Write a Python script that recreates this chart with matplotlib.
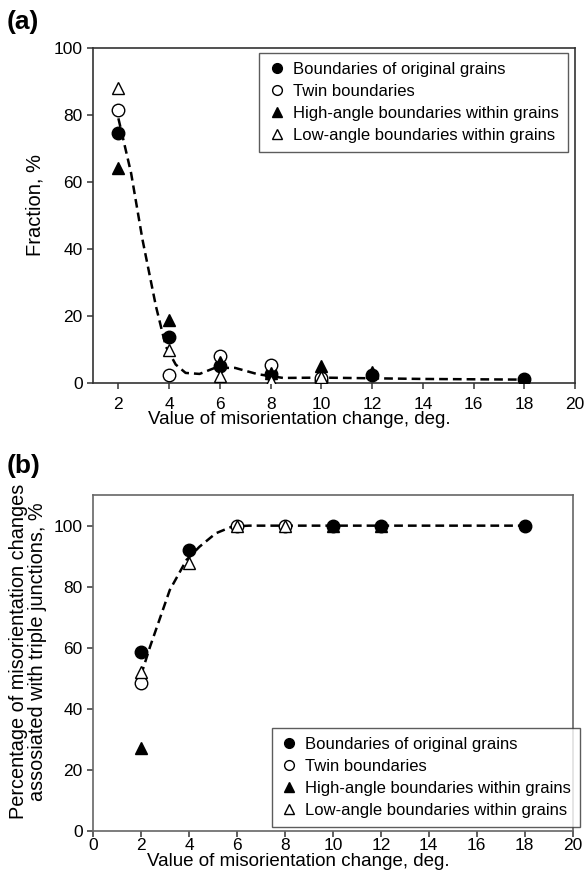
import matplotlib
matplotlib.use("Agg")
import matplotlib.pyplot as plt

plt.rcParams['font.family'] = ['Liberation Sans', 'DejaVu Sans']

labels = ['Boundaries of original grains', 'Twin boundaries',
          'High-angle boundaries within grains', 'Low-angle boundaries within grains']

# panel (a) - fraction, %
a_orig_x = [2, 4, 6, 8, 10, 12, 18]
a_orig_y = [74.5, 13.8, 5, 2.8, 0.5, 2.3, 1.1]
a_twin_x = [2, 4, 6, 8, 10]
a_twin_y = [81.6, 2.5, 8.2, 5.3, 1.5]
a_high_x = [2, 4, 6, 8, 10, 12]
a_high_y = [64.2, 18.8, 6.3, 3.0, 5.2, 3.2]
a_low_x = [2, 4, 6, 8, 10]
a_low_y = [88, 9.8, 2.2, 0.6, 1.8]
a_fit_x = [2, 2.5, 2.95, 3.48, 3.87, 4.26, 4.65, 5.2, 5.8, 6.6, 7.5, 8.5, 10, 12, 14, 16, 18]
a_fit_y = [79, 62.7, 42.8, 22.9, 10.9, 5.5, 3.0, 2.7, 4.5, 4.5, 2.6, 1.5, 1.6, 1.4, 1.2, 1.1, 1.0]

# panel (b) - percentage associated with triple junctions
b_orig_x = [2, 4, 10, 12, 18]
b_orig_y = [58.5, 92, 100, 100, 100]
b_twin_x = [2, 6, 8]
b_twin_y = [48.3, 100, 100]
b_high_x = [2, 10, 12]
b_high_y = [27.3, 100, 100]
b_low_x = [2, 4, 6, 8]
b_low_y = [52.2, 87.8, 100, 100]
b_fit_x = [2, 2.38, 3.2, 3.9, 4.44, 5.12, 5.8, 6.5, 8, 10, 12, 18]
b_fit_y = [51, 60.4, 78.9, 88.8, 93.1, 97.5, 99.7, 100, 100, 100, 100, 100]

fig = plt.figure(figsize=(5.85, 8.81), dpi=100)
ax1 = fig.add_axes([0.159, 0.5653, 0.824, 0.3802])
ax2 = fig.add_axes([0.159, 0.0568, 0.820, 0.3812])

def draw(ax, fx, fy, series, spine_col, pad):
    ax.plot(fx, fy, color='black', ls=(0, (3.5, 2)), lw=1.8, zorder=2)
    styles = [dict(marker='o', mfc='black'), dict(marker='o', mfc='white'),
              dict(marker='^', mfc='black'), dict(marker='^', mfc='white')]
    for (x, y), st, lab in zip(series, styles, labels):
        ax.plot(x, y, ls='none', mec='black', mew=1.0, ms=9, label=lab, zorder=3, **st)
    for s in ax.spines.values():
        s.set_color(spine_col)
        s.set_linewidth(1.2)
    ax.tick_params(labelsize=12.5, width=1.2, length=4, color='#444444')
    ax.tick_params(axis='x', pad=pad)

def legend(ax, loc, anchor):
    lg = ax.legend(loc=loc, bbox_to_anchor=anchor, fontsize=12, frameon=True,
                   fancybox=False, edgecolor='#333333', handletextpad=0.45, borderpad=0.55,
                   labelspacing=0.42, handlelength=1.0, borderaxespad=0, markerscale=0.78)
    lg.get_frame().set_linewidth(1.0)

draw(ax1, a_fit_x, a_fit_y, [(a_orig_x, a_orig_y), (a_twin_x, a_twin_y),
                             (a_high_x, a_high_y), (a_low_x, a_low_y)], '#333333', 6)
ax1.set_xlim(1, 20)
ax1.set_ylim(0, 100)
ax1.set_xticks(range(2, 21, 2))
ax1.set_yticks(range(0, 101, 20))
ax1.set_xlabel('Value of misorientation change, deg.', fontsize=13.5)
ax1.set_ylabel('Fraction, %', fontsize=14.5)
ax1.xaxis.set_label_coords(0.427, -0.085)
ax1.yaxis.set_label_coords(-0.100, 0.53)
legend(ax1, 'upper right', (0.985, 0.985))

draw(ax2, b_fit_x, b_fit_y, [(b_orig_x, b_orig_y), (b_twin_x, b_twin_y),
                             (b_high_x, b_high_y), (b_low_x, b_low_y)], '#666666', 1)
ax2.set_xlim(0, 20)
ax2.set_ylim(0, 110)
ax2.set_xticks(range(0, 21, 2))
ax2.set_yticks(range(0, 101, 20))
ax2.set_xlabel('Value of misorientation change, deg.', fontsize=13.5)
ax2.set_ylabel('Percentage of misorientation changes\nassosiated with triple junctions, %',
               fontsize=14.3, linespacing=1.0)
ax2.xaxis.set_label_coords(0.427, -0.066)
ax2.yaxis.set_label_coords(-0.096, 0.535)
legend(ax2, 'lower right', (1.015, 0.012))

fig.text(0.012, 0.975, '(a)', fontsize=19, fontweight='bold', va='center')
fig.text(0.012, 0.471, '(b)', fontsize=19, fontweight='bold', va='center')

fig.savefig('out.png', dpi=100)
